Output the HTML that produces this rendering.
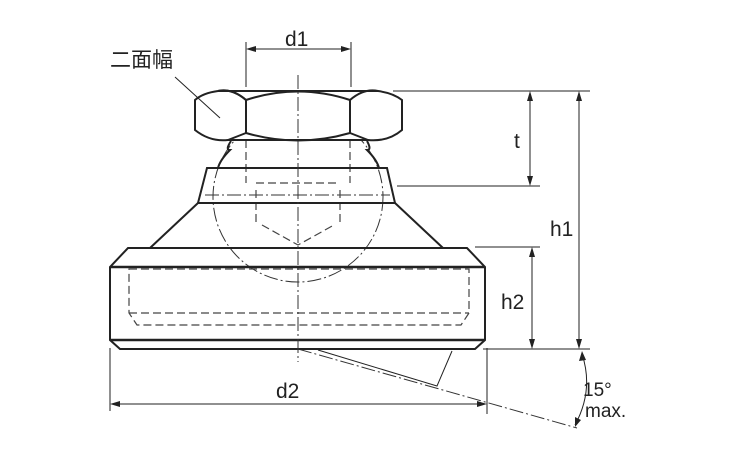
<!DOCTYPE html>
<html><head><meta charset="utf-8"><style>html,body{margin:0;padding:0;background:#fff}svg{display:block}</style></head><body>
<svg width="750" height="450" viewBox="0 0 750 450" xmlns="http://www.w3.org/2000/svg">
<g fill="none" stroke="#333" stroke-width="1" stroke-dasharray="14,3,2,3">
<circle cx="298" cy="197" r="85"/>
<path d="M205,195 L390,195"/>
<path d="M298,349 L577,428"/>
</g>
<g fill="none" stroke="#444" stroke-width="1.2" stroke-dasharray="8,4">
<path d="M246,140 L246,183 M350,140 L350,183"/>
<path d="M256,183 L340,183 M256,190 L256,225 M340,190 L340,225"/>
<path d="M262,225 L298,245 L334,225"/>
</g>
<g fill="none" stroke="#222" stroke-width="2">
<!-- ball sides -->
<path d="M231,141 Q225,150 230,150 Q220,160 218,168"/>
<path d="M367,141 Q372,150 367,150 Q377,160 379,168"/>
<!-- nut -->
<path d="M246,100 Q232,88 218,91 L378,91 Q393,93 402,100 L402,130 Q388,142 368,140 L228,140 Q210,142 195,130 L195,100 Q203,93 218,91" fill="#fff"/>
<path d="M246,100 Q298,83 350,100 L350,133 Q298,148 246,133 Z"/>
<path d="M246,100 Q232,88 218,91 M246,133 L228,140"/>
<path d="M350,100 Q364,88 378,91 M350,133 L368,140"/>
<!-- collar -->
<path d="M207,168 L387,168 L395,203 L198,203 Z"/>
<!-- cone -->
<path d="M198,203 L150,248"/><path d="M395,203 L443,248"/>
<!-- base -->
<path d="M128,248 L467,248 L485,267 L485,340 L475,349 L120,349 L110,340 L110,267 Z"/>
<path d="M110,267 L485,267" stroke-width="2.5"/>
<path d="M110,340 L485,340" stroke-width="2.5"/>
</g>
<g fill="none" stroke="#444" stroke-width="1.2" stroke-dasharray="8,4">
<path d="M129,269 L469,269 L469,313 L461,325 L137,325 L129,313 Z"/>
<path d="M129,313 L469,313"/>
</g>
<g fill="none" stroke="#333" stroke-width="1" stroke-dasharray="14,3,2,3">
<path d="M298,75 L298,362"/>
</g>
<g fill="none" stroke="#222" stroke-width="1">
<path d="M318,350 L437,386 L452,351"/>
<path d="M246,42 L246,87 M351,42 L351,87"/>
<path d="M250,49 L347,49"/>
<path d="M393,91 L590,91 M397,186 L540,186 M475,247 L540,247 M483,349 L590,349"/>
<path d="M530,94 L530,183 M579,94 L579,346 M532,250 L532,346"/>
<path d="M110,348 L110,411 M487,348 L487,414 M114,404 L483,404"/>
<path d="M175,77 L220,118"/>
<path d="M582,354 Q594,390 575,425"/>
</g>
<g fill="#222">
<path d="M246,49 L256,46 L256,52 Z M351,49 L341,46 L341,52 Z"/>
<path d="M530,91 L527,101 L533,101 Z M530,186 L527,176 L533,176 Z"/>
<path d="M579,91 L576,101 L582,101 Z M579,349 L576,339 L582,339 Z"/>
<path d="M532,247 L529,257 L535,257 Z M532,349 L529,339 L535,339 Z"/>
<path d="M110,404 L120,401 L120,407 Z M487,404 L477,401 L477,407 Z"/>
<path d="M582,351 L579,361 L586,360 Z M575,427 L575,417 L581,420 Z"/>
</g>
<g font-family="'Liberation Sans','Noto Sans CJK JP',sans-serif" fill="#222" font-size="21">
<text x="110" y="67">二面幅</text>
<text x="285" y="46">d1</text>
<text x="514" y="148">t</text>
<text x="550" y="236">h1</text>
<text x="501" y="309">h2</text>
<text x="276" y="398">d2</text>
<text x="583" y="396" font-size="19">15°</text>
<text x="585" y="417" font-size="19">max.</text>
</g>
</svg>
</body></html>
